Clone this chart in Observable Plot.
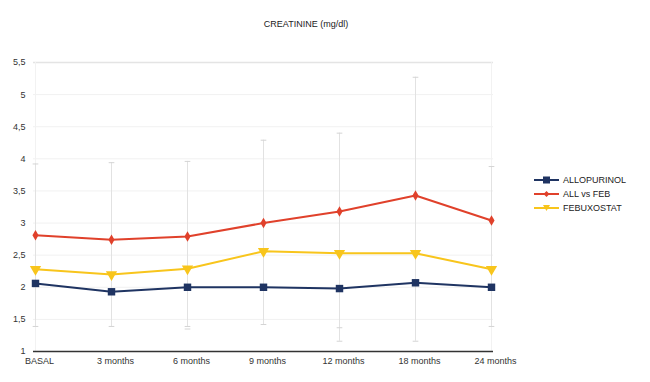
<!DOCTYPE html>
<html>
<head>
<meta charset="utf-8">
<script src="https://cdn.jsdelivr.net/npm/d3@7"></script>
<script src="https://cdn.jsdelivr.net/npm/@observablehq/plot@0.6"></script>
<style>
  html, body { margin: 0; padding: 0; background: #fff; }
  #wrap { position: relative; width: 650px; height: 382px; font-family: "Liberation Sans", Arial, sans-serif; }
  #title { position: absolute; left: 6px; width: 600px; top: 19px; text-align: center; font-size: 9px; color: #222; }
  #legend { position: absolute; left: 534px; top: 173px; font-size: 9px; color: #222; }
  .li { display: flex; align-items: center; height: 14px; }
  .li svg { margin-right: 4px; }
</style>
</head>
<body>
<div id="wrap">
  <div id="chart"></div>
  <div id="title">CREATININE (mg/dl)</div>
  <div id="legend"></div>
</div>
<script>
const categories = ["BASAL", "3 months", "6 months", "9 months", "12 months", "18 months", "24 months"];
const allopurinol = [2.06, 1.93, 2.00, 2.00, 1.98, 2.07, 2.00];
const allVsFeb = [2.81, 2.74, 2.79, 3.00, 3.18, 3.43, 3.04];
const febuxostat = [2.28, 2.20, 2.29, 2.56, 2.53, 2.53, 2.28];
const errHigh = [3.92, 3.94, 3.96, 4.29, 4.40, 5.27, 3.88];
const errLow = [1.39, 1.39, 1.39, 1.42, 1.16, 1.16, 1.39];
const extraCapCats = ["6 months", "12 months"];
const extraCapValues = [1.35, 1.37];
const yTicks = [1, 1.5, 2, 2.5, 3, 3.5, 4, 4.5, 5, 5.5];

const seriesNames = ["ALLOPURINOL", "ALL vs FEB", "FEBUXOSTAT"];
const seriesValues = [allopurinol, allVsFeb, febuxostat];
const colors = ["#1f3462", "#e0412b", "#f8c51c"];

const rows = [];
seriesNames.forEach((s, i) => categories.forEach((c, j) => rows.push({series: s, cat: c, value: seriesValues[i][j]})));
const errRows = categories.map((c, j) => ({cat: c, lo: errLow[j], hi: errHigh[j]}));
const caps = [];
errRows.forEach(d => { caps.push({cat: d.cat, v: d.lo}); caps.push({cat: d.cat, v: d.hi}); });
extraCapCats.forEach((c, i) => caps.push({cat: c, v: extraCapValues[i]}));

const capSymbol = { draw(ctx, size) { const w = Math.sqrt(size) / 2; ctx.moveTo(-w, 0); ctx.lineTo(w, 0); } };

const fmt = d => String(d).replace(".", ",");

const chart = Plot.plot({
  width: 650,
  height: 382,
  marginLeft: 33,
  marginRight: 157,
  marginTop: 62,
  marginBottom: 31,
  style: { fontFamily: "Liberation Sans, Arial, sans-serif", fontSize: "9px", color: "#333", background: "#fff" },
  x: { type: "point", domain: categories, padding: 0, label: null },
  y: { domain: [1, 5.5], label: null },
  color: { domain: seriesNames, range: colors },
  marks: [
    Plot.ruleY(yTicks.filter(t => t > 1 && t < 5.5), { stroke: "#f1f1f1", strokeWidth: 1 }),
    Plot.ruleY([5.5], { stroke: "#e4e4e4", strokeWidth: 1.5 }),
    Plot.ruleX([categories[0], categories[categories.length - 1]], { y1: 1, y2: 5.5, stroke: "#f2f2f2" }),
    Plot.ruleX(errRows, { x: "cat", y1: "lo", y2: "hi", stroke: "#e2e2e2", strokeWidth: 1 }),
    Plot.dot(caps, { x: "cat", y: "v", symbol: capSymbol, r: 3.2, stroke: "#d4d4d4", fill: "none", strokeWidth: 1 }),
    Plot.ruleY([1], { stroke: "#333", strokeWidth: 1.3 }),
    Plot.axisY({ ticks: yTicks, tickFormat: fmt, tickSize: 0, tickPadding: 8, fontSize: 9 }),
    Plot.axisX({ tickSize: 0, tickPadding: 6, dx: 4, fontSize: 9 }),
    Plot.line(rows, { x: "cat", y: "value", stroke: "series", strokeWidth: 2 }),
    Plot.dot(rows.filter(d => d.series === "ALLOPURINOL"), { x: "cat", y: "value", symbol: "square", r: 4.2, fill: colors[0] }),
    Plot.dot(rows.filter(d => d.series === "ALL vs FEB"), { x: "cat", y: "value", symbol: "diamond", r: 3.2, fill: colors[1] }),
    Plot.dot(rows.filter(d => d.series === "FEBUXOSTAT"), { x: "cat", y: "value", symbol: "triangle", r: 4.2, rotate: 180, fill: colors[2] })
  ]
});
document.getElementById("chart").appendChild(chart);

const markerSvg = [
  '<rect x="9" y="2.5" width="7" height="7" fill="' + colors[0] + '"/>',
  '<path d="M12.5 3 L15.5 6 L12.5 9 L9.5 6 Z" fill="' + colors[1] + '"/>',
  '<path d="M9 3 L16 3 L12.5 9 Z" fill="' + colors[2] + '"/>'
];
const legend = document.getElementById("legend");
seriesNames.forEach((s, i) => {
  const div = document.createElement("div");
  div.className = "li";
  div.innerHTML = '<svg width="25" height="12"><line x1="0" x2="25" y1="6" y2="6" stroke="' + colors[i] + '" stroke-width="2"/>' + markerSvg[i] + '</svg><span>' + s + '</span>';
  legend.appendChild(div);
});
</script>
</body>
</html>
